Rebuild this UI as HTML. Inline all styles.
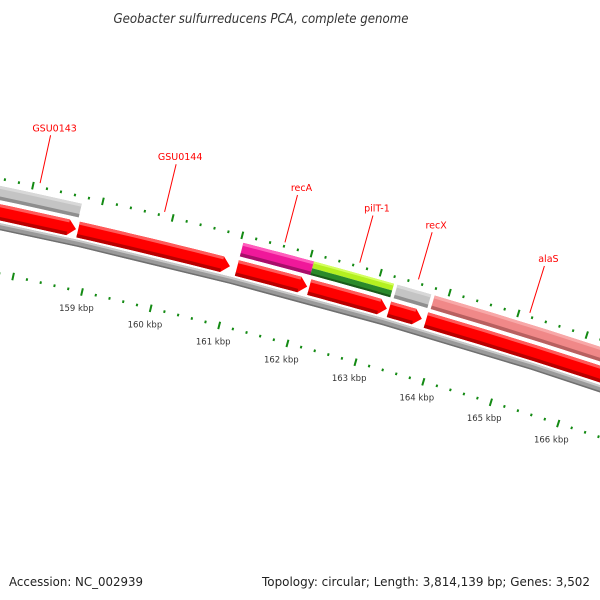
<!DOCTYPE html>
<html><head><meta charset="utf-8"><style>
html,body{margin:0;padding:0;background:#fff;}
svg{display:block;}
</style></head><body>
<svg id="map" width="600" height="600" viewBox="0 0 600 600" xmlns="http://www.w3.org/2000/svg">
<rect width="600" height="600" fill="#fff"/>
<text x="261" y="23" text-anchor="middle" font-family="'DejaVu Sans','Liberation Sans',sans-serif" font-style="italic" font-size="13" fill="#333" textLength="295" lengthAdjust="spacingAndGlyphs">Geobacter sulfurreducens PCA, complete genome</text>
<g id="layer"></g>
<text x="9" y="586" font-family="'DejaVu Sans','Liberation Sans',sans-serif" font-size="12" fill="#222" textLength="134" lengthAdjust="spacingAndGlyphs">Accession: NC_002939</text>
<text x="590" y="586" text-anchor="end" font-family="'DejaVu Sans','Liberation Sans',sans-serif" font-size="12" fill="#222" textLength="328" lengthAdjust="spacingAndGlyphs">Topology: circular; Length: 3,814,139 bp; Genes: 3,502</text>
</svg>
<script>
// genome data
const genomeLength = 3814139;
const upperNames = ['GSU0143','recA','pilT-1','recX','alaS'];
const upperStarts = [150000,161040,162060,163270,163810];
const upperEnds = [158720,162060,163220,163760,172000];
const upperKinds = ['gray','pink','green','gray','salmon'];
const lowerNames = ['gene-a','GSU0144','gene-c','gene-d','gene-e','gene-f'];
const lowerStarts = [150000,158750,161040,162090,163250,163790];
const lowerEnds = [158720,160940,162060,163220,163730,172000];
const labelNames = ['GSU0143','GSU0144','recA','pilT-1','recX','alaS'];
const labelAnchors = [158090,159870,161600,162680,163530,165150];
const majorTicks = [159000,160000,161000,162000,163000,164000,165000,166000];
const tickLabels = ['159 kbp','160 kbp','161 kbp','162 kbp','163 kbp','164 kbp','165 kbp','166 kbp'];

const NS='http://www.w3.org/2000/svg';
const layer=document.getElementById('layer');
const Rg=5800, pxPerKbp=70.6, th0=13.0*Math.PI/180;
const CX=82-Rg*Math.sin(th0), CY=292+Rg*Math.cos(th0);
function pt(bp,d){const phi=th0+(bp-159000)/1000*pxPerKbp/Rg;const r=Rg+d;return [CX+r*Math.sin(phi), CY-r*Math.cos(phi)];}
function el(tag,attrs){const e=document.createElementNS(NS,tag);for(const k in attrs)e.setAttribute(k,attrs[k]);layer.appendChild(e);return e;}
const HEAD=8*1000/70.6;
function band(s,e,d0,d1,fill,arrow){
  const pts=[];const n=10;const e2=arrow?e-HEAD:e;
  for(let i=0;i<=n;i++){pts.push(pt(s+(e2-s)*i/n,d1));}
  if(arrow)pts.push(pt(e,(d0+d1)/2));
  for(let i=n;i>=0;i--){pts.push(pt(s+(e2-s)*i/n,d0));}
  return el('polygon',{points:pts.map(p=>p[0].toFixed(2)+','+p[1].toFixed(2)).join(' '),fill:fill});
}
const pal={gray:['#c4c4c4','#d8d8d8','#8e8e8e'],pink:['#f0189a','#ff5cbc','#a80e6a'],salmon:['#f08888','#f8a8a8','#b86060'],red:['#ff0000','#ff5a5a','#b80000']};
function gene(s,e,d0,d1,kind,arrow,name){
  let m;
  if(kind==='green'){
    m=band(s,e,(d0+d1)/2,d1,'#b4f020',false);
    band(s,e,d0,(d0+d1)/2,'#2a8a2a',false);
    band(s,e,d1-2,d1,'#d4ff60',false);
    band(s,e,d0,d0+2,'#1a5a1a',false);
  } else {
    const c=pal[kind];
    m=band(s,e,d0,d1,c[0],arrow);
    band(s,arrow?e-HEAD:e,d1-3,d1,c[1],false);
    band(s,arrow?e-HEAD:e,d0,d0+3.5,c[2],false);
  }
  
  
}
// backbone
const bb=band(150000,172000,43,50,'#9a9a9a',false);


band(150000,172000,48,50,'#c8c8c8',false);
band(150000,172000,43,44.5,'#707070',false);
// features
for(let i=0;i<upperNames.length;i++) gene(upperStarts[i],upperEnds[i],72,86,upperKinds[i],false,upperNames[i]);
for(let i=0;i<lowerNames.length;i++) gene(lowerStarts[i],lowerEnds[i],52,68,'red',true,lowerNames[i]);
// rulers
function ruler(d,rname){
  for(let bp=155000;bp<=170000;bp+=200){
    const major=bp%1000===0;
    const h=major?3.8:1.3;
    const p1=pt(bp,d-h),p2=pt(bp,d+h);
    const t=el('line',{x1:p1[0],y1:p1[1],x2:p2[0],y2:p2[1],stroke:'#138a13','stroke-width':2});
    
    
  }
}
ruler(0,'inner-ruler');
ruler(93,'outer-ruler');
for(let i=0;i<majorTicks.length;i++){
  const p=pt(majorTicks[i],-16);
  const t=el('text',{x:p[0]-2,y:p[1]+3.5,'text-anchor':'middle','font-family':"'DejaVu Sans','Liberation Sans',sans-serif",'font-size':'8.5',fill:'#333'});
  t.textContent=tickLabels[i];
  
  
}
// gene labels
for(let i=0;i<labelNames.length;i++){
  const p1=pt(labelAnchors[i],97),p2=pt(labelAnchors[i],146);
  const l=el('line',{x1:p1[0],y1:p1[1],x2:p2[0],y2:p2[1],stroke:'#ff0000','stroke-width':1});
  
  
  const t=el('text',{x:p2[0]+4,y:p2[1]-4,'text-anchor':'middle','font-family':"'DejaVu Sans','Liberation Sans',sans-serif",'font-size':'9.5',fill:'#ff0000'});
  t.textContent=labelNames[i];
  
  
}
</script>
</body></html>
